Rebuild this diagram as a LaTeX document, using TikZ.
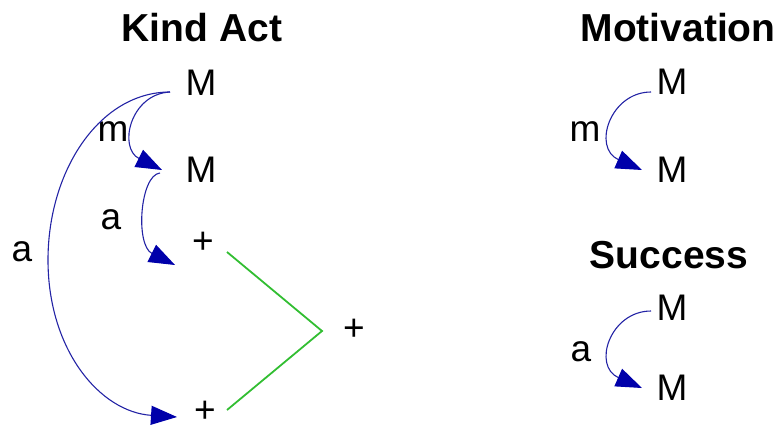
\documentclass[tikz,border=0pt]{standalone}
\usepackage{fontspec}
\setmainfont{Liberation Sans}
\usetikzlibrary{arrows.meta}
\definecolor{arc}{RGB}{35,35,165}
\definecolor{tip}{RGB}{0,0,170}
\definecolor{grn}{RGB}{50,190,50}
\tikzset{
  lbl/.style={inner sep=0pt, font=\fontsize{37}{40}\selectfont},
  ttl/.style={inner sep=0pt, font=\fontsize{39}{42}\selectfont\bfseries},
  arr/.style={draw=arc, line width=1.1pt, -{Triangle[length=26pt,width=19pt,fill=tip,color=tip]}},
  gline/.style={draw=grn, line width=1.8pt}
}
\begin{document}
\begin{tikzpicture}[x=1pt,y=-1pt]
\useasboundingbox (0,0) rectangle (778,429);
% titles
\node[ttl] (tka) at (202,27.5) {Kind Act};
\node[ttl] (tmo) at (678,27.5) {Motivation};
\node[ttl] (tsu) at (669,255) {Success};
% Kind Act
\node[lbl] (M1) at (201,83) {M};
\node[lbl] (M2) at (201,170) {M};
\node[lbl] (p1) at (203,243) {+};
\node[lbl] (p2) at (205,412) {+};
\node[lbl] (p3) at (354,330) {+};
\node[lbl] (lm) at (113,132) {m};
\node[lbl] (la1) at (111,220) {a};
\node[lbl] (la2) at (22,252) {a};
\coordinate (s1) at (170,92);
\coordinate (e1) at (162,170);
\coordinate (s2) at (160,173);
\coordinate (e2) at (175,265);
\coordinate (e3) at (177,417);
\coordinate (g1) at (227,252);
\coordinate (g2) at (322,331);
\coordinate (g3) at (227,410);
\draw[arr] (s1) .. controls (130,94) and (118,148) .. (e1);
\draw[arr] (s2) .. controls (140,175) and (135,245) .. (e2);
\draw[arr] (s1) .. controls (100,92) and (48,170) .. (48,260) .. controls (48,350) and (100,412) .. (e3);
\draw[gline] (g1) -- (g2) -- (g3);
% Motivation
\node[lbl] (M3) at (672,82) {M};
\node[lbl] (M4) at (672,170) {M};
\node[lbl] (lm2) at (585,132) {m};
\coordinate (s4) at (651,92);
\coordinate (e4) at (642,170);
\draw[arr] (s4) .. controls (610,92) and (592,148) .. (e4);
% Success
\node[lbl] (M5) at (672,308) {M};
\node[lbl] (M6) at (672,388) {M};
\node[lbl] (la3) at (581,352) {a};
\coordinate (s5) at (651,311);
\coordinate (e5) at (642,388);
\draw[arr] (s5) .. controls (610,311) and (592,366) .. (e5);
\end{tikzpicture}
\end{document}
